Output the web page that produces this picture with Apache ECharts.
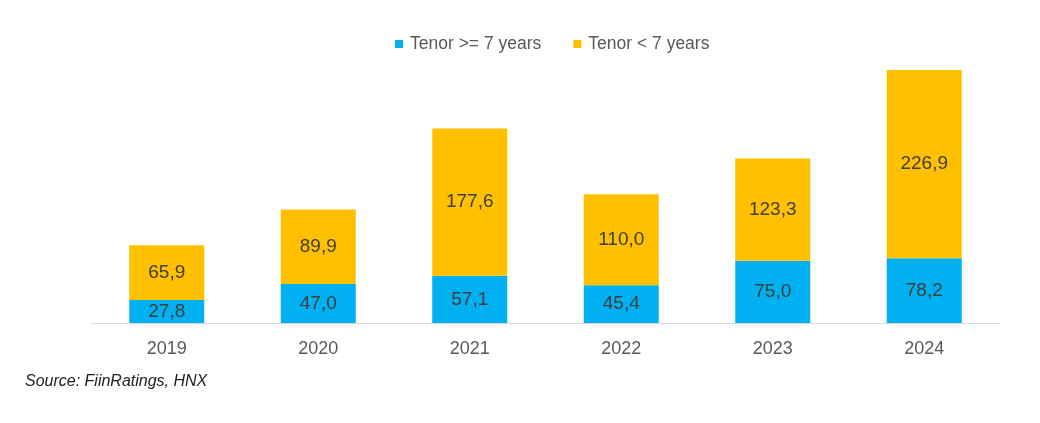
<!DOCTYPE html>
<html>
<head>
<meta charset="utf-8">
<script src="https://cdn.jsdelivr.net/npm/echarts@6/dist/echarts.min.js"></script>
<style>
html,body{margin:0;padding:0;background:#fff;}
#chart{width:1040px;height:423px;}
</style>
</head>
<body>
<div id="chart"></div>
<script>
const categories = ['2019', '2020', '2021', '2022', '2023', '2024'];
const tenorLong = [27.8, 47.0, 57.1, 45.4, 75.0, 78.2];
const tenorShort = [65.9, 89.9, 177.6, 110.0, 123.3, 226.9];
const seriesNames = ['Tenor >= 7 years', 'Tenor < 7 years'];
const sourceText = 'Source: FiinRatings, HNX';

const fmt = p => p.value.toFixed(1).replace('.', ',');
const chart = echarts.init(document.getElementById('chart'));
chart.setOption({
  animation: false,
  backgroundColor: '#fff',
  legend: {
    top: 30,
    left: 390,
    itemWidth: 8,
    itemHeight: 8,
    itemGap: 32,
    icon: 'rect',
    textStyle: {fontFamily: 'Liberation Sans, Arial', fontSize: 17.5, color: '#595959', padding: [0, 0, 0, 2]},
    data: seriesNames
  },
  grid: {left: 91, right: 40, top: 32.8, bottom: 100},
  xAxis: {
    type: 'category',
    data: categories,
    axisLine: {lineStyle: {color: '#d9d9d9', width: 1}},
    axisTick: {show: false},
    axisLabel: {fontFamily: 'Liberation Sans, Arial', fontSize: 18, color: '#595959', margin: 17}
  },
  yAxis: {
    type: 'value', min: 0, max: 350,
    show: false,
    splitLine: {show: false}
  },
  series: [
    {
      name: seriesNames[0], type: 'bar', stack: 'a', data: tenorLong,
      barWidth: '49.5%',
      itemStyle: {color: '#00B0F0'},
      label: {show: true, position: 'inside', formatter: fmt, fontFamily: 'Liberation Sans, Arial', fontSize: 19, color: '#404040'}
    },
    {
      name: seriesNames[1], type: 'bar', stack: 'a', data: tenorShort,
      barWidth: '49.5%',
      itemStyle: {color: '#FFC000'},
      label: {show: true, position: 'inside', formatter: fmt, fontFamily: 'Liberation Sans, Arial', fontSize: 19, color: '#404040'}
    }
  ],
  graphic: [
    {type: 'text', left: 25, top: 374, style: {text: sourceText, font: 'italic 16px "Liberation Sans", Arial', fill: '#222'}}
  ]
});
</script>
</body>
</html>
